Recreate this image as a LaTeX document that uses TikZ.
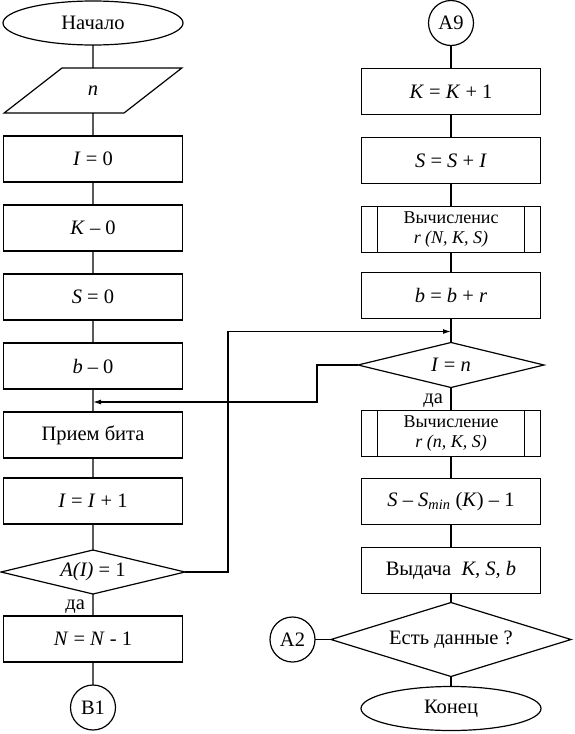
\documentclass[tikz,border=0pt]{standalone}
\usepackage{fontspec}
\setmainfont{Liberation Serif}
\usetikzlibrary{shapes.geometric, positioning, arrows.meta}

\begin{document}
\begin{tikzpicture}[x=1pt, y=1pt, >={Latex[length=8pt, width=5pt]}, node distance=23pt, line width=1.2pt,
    font=\fontsize{20.5}{23}\selectfont,
    every node/.style={outer sep=0pt},
    block/.style={draw, rectangle, minimum width=179pt, minimum height=46pt, inner sep=2pt},
    subblock/.style={block, align=center, font=\fontsize{18}{20}\selectfont,
        path picture={\draw ([xshift=16pt]path picture bounding box.north west) -- ([xshift=16pt]path picture bounding box.south west)
            ([xshift=-16pt]path picture bounding box.north east) -- ([xshift=-16pt]path picture bounding box.south east);}},
    term/.style={draw, ellipse, minimum width=180pt, minimum height=44pt},
    io/.style={draw, trapezium, trapezium left angle=46, trapezium right angle=134, trapezium stretches=true, minimum width=178pt, minimum height=45pt},
    cond/.style={draw, diamond, aspect=4, minimum width=184pt, minimum height=44pt, inner sep=0pt},
    conn/.style={draw, circle, minimum size=45pt, inner sep=0pt},
    yes/.style={anchor=north east, inner sep=2pt, xshift=-6pt, yshift=-4pt}]

    \useasboundingbox (0,0) rectangle (575,-734);

    % left column
    \node[term] (start) at (93,-23) {Начало};
    \node[io, below=of start] (inp) {\textit{n}};
    \node[block, below=of inp] (setI) {\textit{I} = 0};
    \node[block, below=of setI] (setK) {\textit{K} – 0};
    \node[block, below=of setK] (setS) {\textit{S} = 0};
    \node[block, below=of setS] (setb) {\textit{b} – 0};
    \node[block, below=of setb] (recv) {Прием бита};
    \node[block, below=20pt of recv] (incI) {\textit{I} = \textit{I} + 1};
    \node[cond, below=26pt of incI] (testA) {\textit{A(I)} = 1};
    \node[yes] (yesA) at (testA.south) {да};
    \node[block, below=22pt of testA] (decN) {\textit{N} = \textit{N} - 1};
    \node[conn, below=of decN] (B1) {B1};

    % right column
    \node[conn] (A9) at (451,-23) {A9};
    \node[block, below=of A9] (incK) {\textit{K} = \textit{K} + 1};
    \node[block, below=of incK] (addS) {\textit{S} = \textit{S} + \textit{I}};
    \node[subblock, below=of addS] (calcN) {Вычисленис\\ \textit{r (N, K, S)}};
    \node[block, below=20pt of calcN] (addb) {\textit{b} = \textit{b} + \textit{r}};
    \node[cond, minimum width=186pt, minimum height=45pt, below=24pt of addb] (testI) {\textit{I} = \textit{n}};
    \node[yes] (yesI) at (testI.south) {да};
    \node[subblock, below=of testI] (calcn) {Вычисление\\ \textit{r (n, K, S)}};
    \node[block, below=22pt of calcn] (setSm) {\textit{S} – \textit{S}\textsubscript{\textit{min}} (\textit{K}) – 1};
    \node[block, below=of setSm] (outp) {Выдача \ \textit{K, S, b}};
    \node[cond, aspect=3.2, minimum width=240pt, minimum height=74pt, below=9pt of outp] (more) {Есть данные ?};
    \node[term, below=10pt of more] (stop) {Конец};
    \node[conn, left=16pt of more] (A2) {A2};

    \coordinate (j1) at ([yshift=10pt]recv.north);
    \coordinate (j2) at ([yshift=11pt]testI.north);

    \draw (start) -- (inp) -- (setI) -- (setK) -- (setS) -- (setb) -- (recv) -- (incI) -- (testA) -- (decN) -- (B1);
    \draw (A9) -- (incK) -- (addS) -- (calcN) -- (addb) -- (testI) -- (calcn) -- (setSm) -- (outp) -- (more) -- (stop);
    \draw (A2) -- (more);

    \draw[->] (testA.east) -- ++(43pt,0) |- (j2);
    \draw[->] (testI.west) -- ++(-41pt,0) |- (j1);

\end{tikzpicture}
\end{document}
